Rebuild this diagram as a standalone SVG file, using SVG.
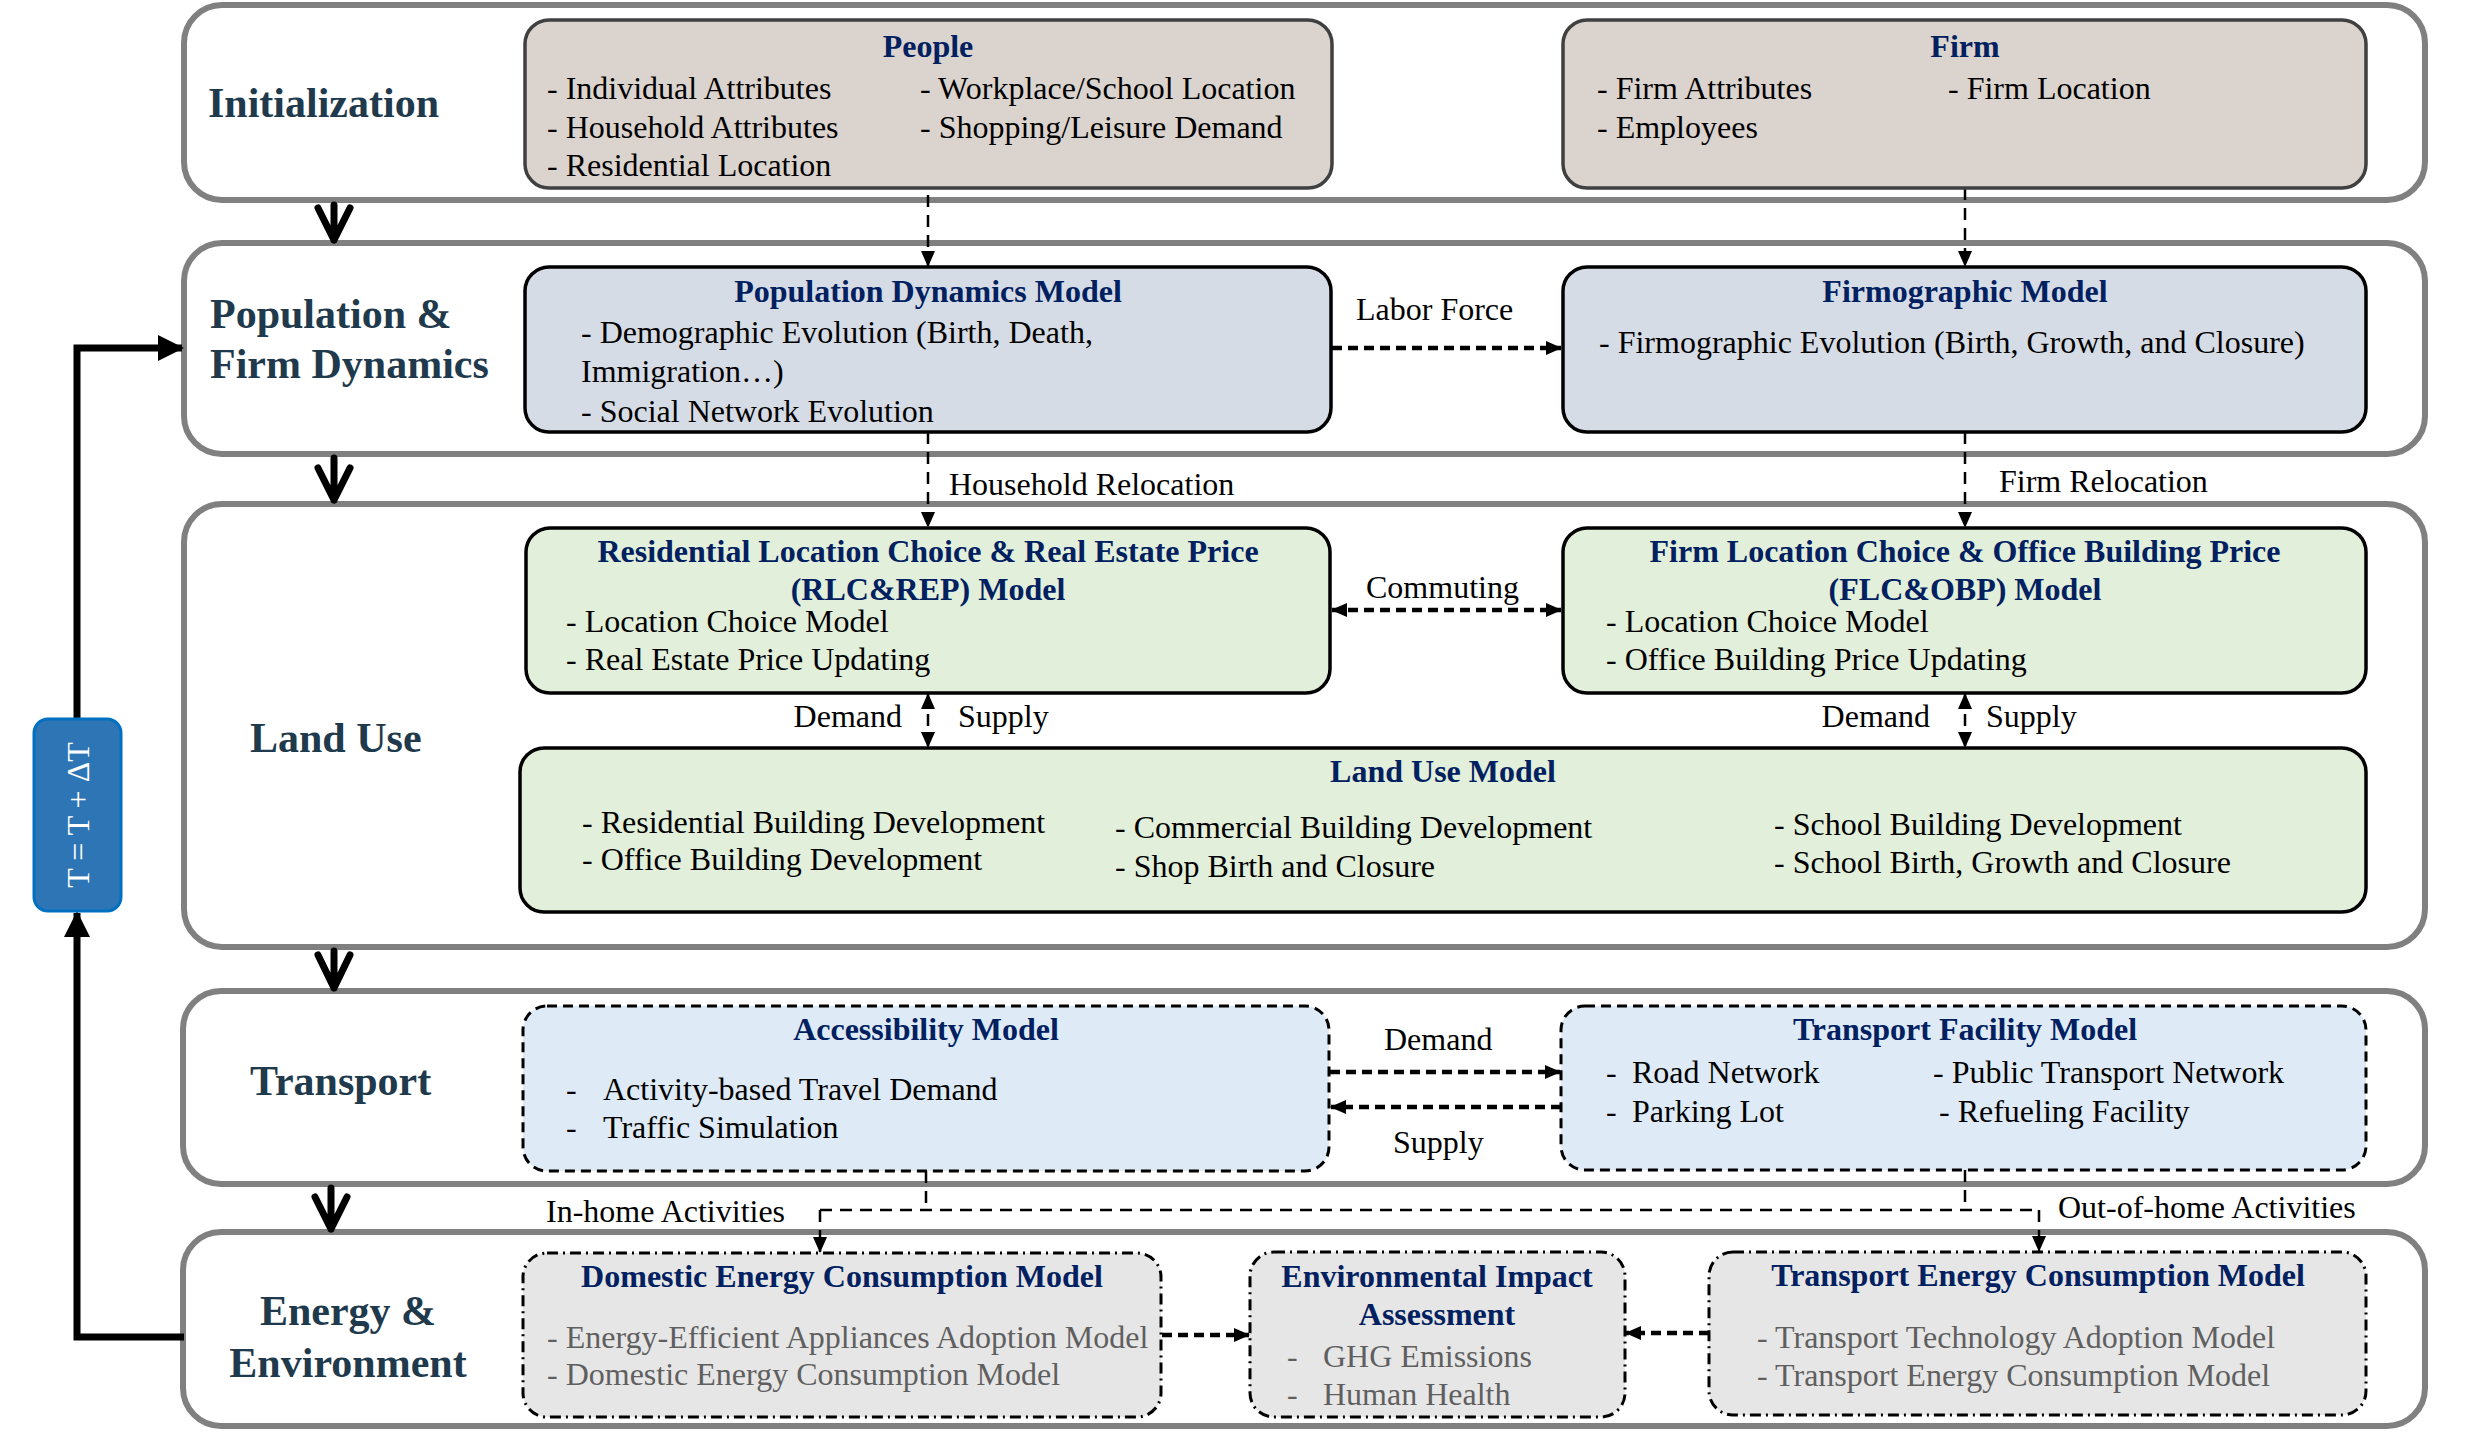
<svg xmlns="http://www.w3.org/2000/svg" width="2471" height="1434" viewBox="0 0 2471 1434">
<defs>
<marker id="ah" markerWidth="16" markerHeight="14" refX="15" refY="7" orient="auto-start-reverse" markerUnits="userSpaceOnUse"><path d="M0,0 L16,7 L0,14 z" fill="#000"/></marker>
<marker id="big" markerWidth="26" markerHeight="26" refX="24" refY="13" orient="auto" markerUnits="userSpaceOnUse"><path d="M0,0 L26,13 L0,26 z" fill="#000"/></marker>
</defs>
<style>
.lane{fill:#fff;stroke:#808080;stroke-width:6}
.lbl{font-family:"Liberation Serif","Times New Roman",serif;font-weight:bold;font-size:42px;fill:#1f3a4c}
.ttl{font-family:"Liberation Serif","Times New Roman",serif;font-weight:bold;font-size:32px;fill:#002060;text-anchor:middle}
.tx{font-family:"Liberation Serif","Times New Roman",serif;font-size:32px;fill:#000}
.gx{font-family:"Liberation Serif","Times New Roman",serif;font-size:32px;fill:#5f5f5f}
.init{fill:#dbd3ce;stroke:#404040;stroke-width:3.5}
.pop{fill:#d6dce5;stroke:#000;stroke-width:3.5}
.lu{fill:#e2efda;stroke:#000;stroke-width:3.5}
.tr{fill:#deebf7;stroke:#000;stroke-width:3;stroke-dasharray:10 6}
.en{fill:#e6e6e6;stroke:#000;stroke-width:3;stroke-dasharray:11 5 2 5}
.dl{fill:none;stroke:#000;stroke-width:2.5;stroke-dasharray:12 8}
.dt{fill:none;stroke:#000;stroke-width:4.5;stroke-dasharray:10 6}
.thick{fill:none;stroke:#000;stroke-width:7;stroke-linecap:round;stroke-linejoin:round}
</style>

<g id="lanes">
<rect class="lane" x="184" y="5" width="2241" height="195" rx="38"/>
<rect class="lane" x="184" y="243" width="2241" height="211" rx="38"/>
<rect class="lane" x="184" y="504" width="2241" height="443" rx="38"/>
<rect class="lane" x="183" y="991" width="2242" height="193" rx="38"/>
<rect class="lane" x="183" y="1232" width="2242" height="194" rx="38"/>
<text class="lbl" x="208" y="117">Initialization</text>
<text class="lbl" x="210" y="328">Population &amp;</text>
<text class="lbl" x="210" y="378">Firm Dynamics</text>
<text class="lbl" x="250" y="752">Land Use</text>
<text class="lbl" x="250" y="1095">Transport</text>
<text class="lbl" x="348" y="1325" text-anchor="middle">Energy &amp;</text>
<text class="lbl" x="348" y="1377" text-anchor="middle">Environment</text>
</g>

<g id="connectors">
<path class="thick" d="M334,205 V240 M318,208 L334,240 L350,208"/>
<path class="thick" d="M334,458 V500 M318,468 L334,500 L350,468"/>
<path class="thick" d="M334,951 V988 M318,955 L334,988 L350,955"/>
<path class="thick" d="M331,1188 V1229 M315,1197 L331,1229 L347,1197"/>
<path d="M184,1337 H77 V913" fill="none" stroke="#000" stroke-width="7" marker-end="url(#big)"/>
<path d="M77,718 V348 H182" fill="none" stroke="#000" stroke-width="7" marker-end="url(#big)"/>
<path class="dl" d="M928,175 V266" marker-end="url(#ah)"/>
<path class="dl" d="M1965,188 V266" marker-end="url(#ah)"/>
<path class="dl" d="M928,432 V527" marker-end="url(#ah)"/>
<path class="dl" d="M1965,432 V527" marker-end="url(#ah)"/>
<path class="dt" d="M1332,348 H1561" marker-end="url(#ah)"/>
<path class="dt" d="M1332,610 H1561" marker-start="url(#ah)" marker-end="url(#ah)"/>
<path class="dl" d="M928,694 V747" marker-start="url(#ah)" marker-end="url(#ah)"/>
<path class="dl" d="M1965,694 V747" marker-start="url(#ah)" marker-end="url(#ah)"/>
<path class="dt" d="M1330,1072 H1560" marker-end="url(#ah)"/>
<path class="dt" d="M1561,1107 H1331" marker-end="url(#ah)"/>
<path class="dl" d="M926,1171 V1210 M1965,1170 V1210"/>
<path class="dl" stroke-width="3" d="M820,1210 H2039"/>
<path class="dl" d="M820,1210 V1252" marker-end="url(#ah)"/>
<path class="dl" d="M2039,1210 V1251" marker-end="url(#ah)"/>
<path class="dt" d="M1162,1335 H1249" marker-end="url(#ah)"/>
<path class="dt" d="M1709,1333 H1626" marker-end="url(#ah)"/>
<text class="tx" x="1356" y="320">Labor Force</text>
<text class="tx" x="949" y="495">Household Relocation</text>
<text class="tx" x="1999" y="492">Firm Relocation</text>
<text class="tx" x="1366" y="598">Commuting</text>
<text class="tx" x="902" y="727" text-anchor="end">Demand</text>
<text class="tx" x="958" y="727">Supply</text>
<text class="tx" x="1930" y="727" text-anchor="end">Demand</text>
<text class="tx" x="1986" y="727">Supply</text>
<text class="tx" x="1384" y="1050">Demand</text>
<text class="tx" x="1393" y="1153">Supply</text>
<text class="tx" x="546" y="1222">In-home Activities</text>
<text class="tx" x="2058" y="1218">Out-of-home Activities</text>
</g>

<g id="timestep">
<rect x="34" y="719" width="87" height="192" rx="14" fill="#2e75b6" stroke="#0070c0" stroke-width="3"/>
<text x="0" y="0" transform="translate(89,815) rotate(-90)" text-anchor="middle" font-family="Liberation Serif, Times New Roman, serif" font-size="32" fill="#fff">T = T + ΔT</text>
</g>

<g id="people">
<rect class="init" x="525" y="20" width="807" height="168" rx="24"/>
<text class="ttl" x="928" y="57">People</text>
<text class="tx" x="547" y="99">- Individual Attributes</text>
<text class="tx" x="547" y="138">- Household Attributes</text>
<text class="tx" x="547" y="176">- Residential Location</text>
<text class="tx" x="920" y="99">- Workplace/School Location</text>
<text class="tx" x="920" y="138">- Shopping/Leisure Demand</text>
</g>

<g id="firm">
<rect class="init" x="1563" y="20" width="803" height="168" rx="24"/>
<text class="ttl" x="1965" y="57">Firm</text>
<text class="tx" x="1597" y="99">- Firm Attributes</text>
<text class="tx" x="1597" y="138">- Employees</text>
<text class="tx" x="1948" y="99">- Firm Location</text>
</g>

<g id="population-dynamics">
<rect class="pop" x="525" y="267" width="806" height="165" rx="24"/>
<text class="ttl" x="928" y="302">Population Dynamics Model</text>
<text class="tx" x="581" y="343">- Demographic Evolution (Birth, Death,</text>
<text class="tx" x="581" y="382">Immigration…)</text>
<text class="tx" x="581" y="422">- Social Network Evolution</text>
</g>

<g id="firmographic">
<rect class="pop" x="1563" y="267" width="803" height="165" rx="24"/>
<text class="ttl" x="1965" y="302">Firmographic Model</text>
<text class="tx" x="1599" y="353">- Firmographic Evolution (Birth, Growth, and Closure)</text>
</g>

<g id="rlc-rep">
<rect class="lu" x="526" y="528" width="804" height="165" rx="24"/>
<text class="ttl" x="928" y="562">Residential Location Choice &amp; Real Estate Price</text>
<text class="ttl" x="928" y="600">(RLC&amp;REP) Model</text>
<text class="tx" x="566" y="632">- Location Choice Model</text>
<text class="tx" x="566" y="670">- Real Estate Price Updating</text>
</g>

<g id="flc-obp">
<rect class="lu" x="1563" y="528" width="803" height="165" rx="24"/>
<text class="ttl" x="1965" y="562">Firm Location Choice &amp; Office Building Price</text>
<text class="ttl" x="1965" y="600">(FLC&amp;OBP) Model</text>
<text class="tx" x="1606" y="632">- Location Choice Model</text>
<text class="tx" x="1606" y="670">- Office Building Price Updating</text>
</g>

<g id="land-use-model">
<rect class="lu" x="520" y="748" width="1846" height="164" rx="24"/>
<text class="ttl" x="1443" y="782">Land Use Model</text>
<text class="tx" x="582" y="833">- Residential Building Development</text>
<text class="tx" x="582" y="870">- Office Building Development</text>
<text class="tx" x="1115" y="838">- Commercial Building Development</text>
<text class="tx" x="1115" y="877">- Shop Birth and Closure</text>
<text class="tx" x="1774" y="835">- School Building Development</text>
<text class="tx" x="1774" y="873">- School Birth, Growth and Closure</text>
</g>

<g id="accessibility">
<rect class="tr" x="523" y="1006" width="806" height="165" rx="24"/>
<text class="ttl" x="926" y="1040">Accessibility Model</text>
<text class="tx" x="566" y="1100">-</text>
<text class="tx" x="603" y="1100">Activity-based Travel Demand</text>
<text class="tx" x="566" y="1138">-</text>
<text class="tx" x="603" y="1138">Traffic Simulation</text>
</g>

<g id="transport-facility">
<rect class="tr" x="1561" y="1006" width="805" height="164" rx="24"/>
<text class="ttl" x="1965" y="1040">Transport Facility Model</text>
<text class="tx" x="1606" y="1083">-</text>
<text class="tx" x="1632" y="1083">Road Network</text>
<text class="tx" x="1606" y="1122">-</text>
<text class="tx" x="1632" y="1122">Parking Lot</text>
<text class="tx" x="1933" y="1083">- Public Transport Network</text>
<text class="tx" x="1939" y="1122">- Refueling Facility</text>
</g>

<g id="domestic-energy">
<rect class="en" x="523" y="1253" width="638" height="164" rx="24"/>
<text class="ttl" x="842" y="1287">Domestic Energy Consumption Model</text>
<text class="gx" x="547" y="1348">- Energy-Efficient Appliances Adoption Model</text>
<text class="gx" x="547" y="1385">- Domestic Energy Consumption Model</text>
</g>

<g id="environmental-impact">
<rect class="en" x="1250" y="1252" width="375" height="165" rx="24"/>
<text class="ttl" x="1437" y="1287">Environmental Impact</text>
<text class="ttl" x="1437" y="1325">Assessment</text>
<text class="gx" x="1287" y="1367">-</text>
<text class="gx" x="1323" y="1367">GHG Emissions</text>
<text class="gx" x="1287" y="1405">-</text>
<text class="gx" x="1323" y="1405">Human Health</text>
</g>

<g id="transport-energy">
<rect class="en" x="1709" y="1252" width="657" height="163" rx="24"/>
<text class="ttl" x="2038" y="1286">Transport Energy Consumption Model</text>
<text class="gx" x="1757" y="1348">- Transport Technology Adoption Model</text>
<text class="gx" x="1757" y="1386">- Transport Energy Consumption Model</text>
</g>
</svg>
